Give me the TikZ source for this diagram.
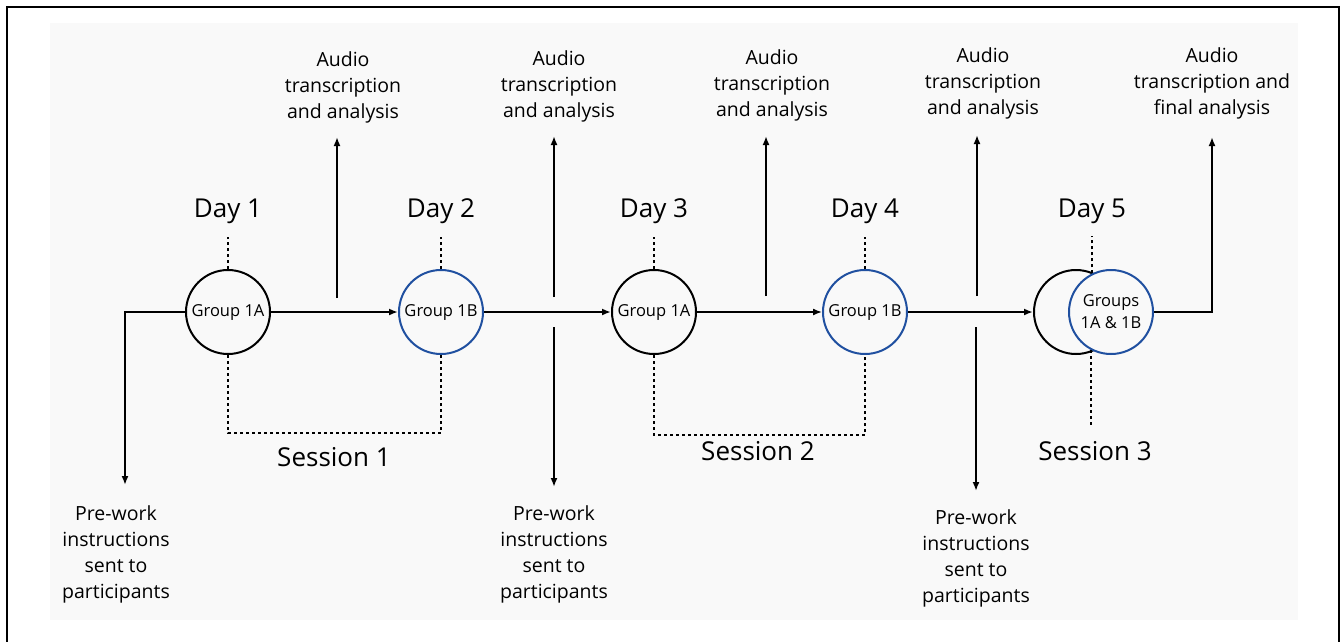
\documentclass[tikz,border=0pt]{standalone}
\usepackage{fontspec}
\setmainfont{Open Sans}
\usetikzlibrary{arrows.meta}
\definecolor{bgc}{RGB}{249,249,249}
\definecolor{grpblue}{RGB}{32,80,160}
\begin{document}
\begin{tikzpicture}[x=1pt,y=-1pt,
  line/.style={line width=2.1pt, draw=black},
  arr/.style={line, -{Latex[length=9pt,width=7pt]}},
  dot/.style={line width=2pt, dash pattern=on 3pt off 3pt},
  grp/.style={circle, draw, line width=2pt, minimum size=84pt, inner sep=0pt, fill=bgc, align=center, font=\fontsize{16.5}{22}\selectfont},
  bgrp/.style={grp, draw=grpblue},
  day/.style={anchor=base, inner sep=0pt, font=\fontsize{26}{30}\selectfont},
  note/.style={anchor=north, inner sep=0pt, align=center, font=\fontsize{19.5}{26}\selectfont},
]
\useasboundingbox (0,0) rectangle (1341,641);
\fill[bgc] (50,23) rectangle (1298,620);
\draw[line width=2.4pt] (7,645) -- (7,7) -- (1339,7) -- (1339,645);

% circles
\node[grp]  (c1)  at (228,312)  {Group 1A};
\node[bgrp] (c2)  at (441,312)  {Group 1B};
\node[grp]  (c3)  at (654,312)  {Group 1A};
\node[bgrp] (c4)  at (865,312)  {Group 1B};
\node[grp]  (c5a) at (1076,312) {};
\node[bgrp] (c5b) at (1111,312) {Groups\\1A \& 1B};

% day labels
\node[day] (d1) at (228,217)  {Day 1};
\node[day] (d2) at (441,217)  {Day 2};
\node[day] (d3) at (654,217)  {Day 3};
\node[day] (d4) at (865,217)  {Day 4};
\node[day] (d5) at (1092,217) {Day 5};

% session labels
\node[day] (s1) at (334,466)  {Session 1};
\node[day] (s2) at (758,460)  {Session 2};
\node[day] (s3) at (1095,460) {Session 3};

% dotted day markers
\draw[dot] (c1.north) -- ++(0,-32);
\draw[dot] (c2.north) -- ++(0,-32);
\draw[dot] (c3.north) -- ++(0,-32);
\draw[dot] (c4.north) -- ++(0,-32);
\draw[dot] (c5b.116.6) -- ++(0,-37);

% session brackets
\draw[dot] (c1.south) -- ++(0,78) -| (c2.south);
\draw[dot] (c3.south) -- ++(0,80) -| (c4.south);
\draw[dot] (c5b.243.4) -- ++(0,77);

% text notes
\node[note] (a1) at (343,51)  {Audio\\transcription\\and analysis};
\node[note] (a2) at (559,50)  {Audio\\transcription\\and analysis};
\node[note] (a3) at (772,49)  {Audio\\transcription\\and analysis};
\node[note] (a4) at (983,47)  {Audio\\transcription\\and analysis};
\node[note] (a5) at (1212,47) {Audio\\transcription and\\final analysis};
\node[note] (w1) at (116,505) {Pre-work\\instructions\\sent to\\participants};
\node[note] (w2) at (554,505) {Pre-work\\instructions\\sent to\\participants};
\node[note] (w3) at (976,509) {Pre-work\\instructions\\sent to\\participants};

% coordinates for free arrow ends
\coordinate (st)  at (125,312);
\coordinate (stb) at (125,485);
\coordinate (u1)  at (337,298);
\coordinate (u1t) at (337,137);
\coordinate (u2)  at (554,297);
\coordinate (u2t) at (554,136);
\coordinate (l2)  at (554,327);
\coordinate (l2t) at (554,487);
\coordinate (u3)  at (766,296);
\coordinate (u3t) at (766,136);
\coordinate (u4)  at (977,296);
\coordinate (u4t) at (977,135);
\coordinate (l4)  at (976,327);
\coordinate (l4t) at (976,491);
\coordinate (f1)  at (1212,312);
\coordinate (f2)  at (1212,137);

% main flow
\draw[arr] (c1.west) -- (st) -- (stb);
\draw[arr] (c1) -- (c2);
\draw[arr] (c2) -- (c3);
\draw[arr, line width=1.5pt] (c3) -- (c4);
\draw[arr] (c4) -- (c5a);
\draw[arr] (c5b.east) -- (f1) -- (f2);

% side arrows
\draw[arr] (u1) -- (u1t);
\draw[arr] (u2) -- (u2t);
\draw[arr] (l2) -- (l2t);
\draw[arr] (u3) -- (u3t);
\draw[arr] (u4) -- (u4t);
\draw[arr] (l4) -- (l4t);
\end{tikzpicture}
\end{document}
